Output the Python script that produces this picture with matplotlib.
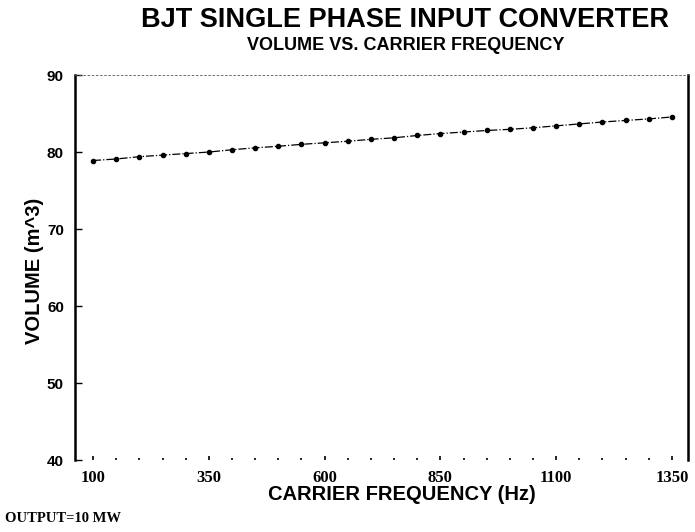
import matplotlib.pyplot as plt

# carrier frequency (Hz) and converter volume (m^3)
freq = [100, 150, 200, 250, 300, 350, 400, 450, 500, 550, 600, 650, 700,
        750, 800, 850, 900, 950, 1000, 1050, 1100, 1150, 1200, 1250, 1300, 1350]
volume = [78.9, 79.1, 79.4, 79.6, 79.8, 80.0, 80.3, 80.55, 80.75, 81.0, 81.2,
          81.4, 81.65, 81.85, 82.15, 82.4, 82.6, 82.8, 82.95, 83.15, 83.4,
          83.65, 83.9, 84.1, 84.3, 84.55]
x_ticks = [100, 350, 600, 850, 1100, 1350]
y_ticks = [40, 50, 60, 70, 80, 90]

sans = ['Liberation Sans', 'DejaVu Sans']
serif = ['Liberation Serif', 'DejaVu Serif']

fig = plt.figure(figsize=(6.95, 5.32), dpi=100)
ax = fig.add_axes([0.108, 0.135, 0.882, 0.724])

ax.plot(freq, volume, color='black', linestyle='-.', linewidth=0.9,
        marker='o', markersize=3.0)

ax.set_xlim(61, 1385)
ax.set_ylim(40, 90)

# thick side rails, faint dotted top / bottom like the scan
ax.spines['left'].set_linewidth(1.8)
ax.spines['right'].set_linewidth(1.8)
ax.spines['top'].set_linestyle((0, (2, 3)))
ax.spines['top'].set_linewidth(0.6)
ax.spines['top'].set_color('#555555')
ax.spines['bottom'].set_visible(False)

ax.set_xticks(x_ticks)
ax.set_xticks(range(100, 1400, 50), minor=True)
ax.set_yticks(y_ticks)
ax.tick_params(axis='x', which='both', direction='in', length=3, width=1.2,
               pad=7)
ax.tick_params(axis='x', which='minor', length=1.5)
ax.tick_params(axis='y', direction='in', length=5, width=1, pad=8)

for lab in ax.get_xticklabels():
    lab.set_family(serif)
    lab.set_fontweight('bold')
    lab.set_fontsize(12)
for lab in ax.get_yticklabels():
    lab.set_family(sans)
    lab.set_fontweight('bold')
    lab.set_fontsize(11)

fig.text(0.578, 0.071, 'CARRIER FREQUENCY (Hz)', family=sans,
         fontweight='bold', fontsize=14.5, ha='center', va='center')
fig.text(0.05, 0.49, 'VOLUME (m^3)', family=sans, fontweight='bold',
         fontsize=14.5, ha='center', va='center', rotation=90)

fig.text(0.583, 0.962, 'BJT SINGLE PHASE INPUT CONVERTER', family=sans,
         fontweight='bold', fontsize=19.5, ha='center', va='center')
fig.text(0.584, 0.915, 'VOLUME VS. CARRIER FREQUENCY', family=sans,
         fontweight='bold', fontsize=13, ha='center', va='center')
fig.text(0.007, 0.025, 'OUTPUT=10 MW', family=serif, fontweight='bold',
         fontsize=10.5, ha='left', va='center')

fig.savefig('out.png', dpi=100)
